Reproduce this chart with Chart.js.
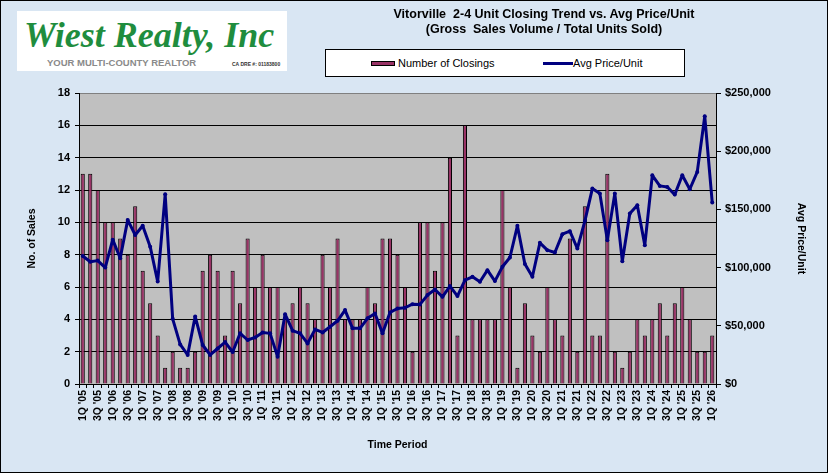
<!DOCTYPE html>
<html lang="en">
<head>
    <meta charset="UTF-8">
    <title>Vitorville 2-4 Unit Closing Trend</title>
    <script src="https://cdn.jsdelivr.net/npm/chart.js"></script>
    <style>
        body {
            margin: 0;
            width: 828px;
            height: 473px;
            overflow: hidden;
            font-family: Arial, "Liberation Sans", sans-serif;
            background: #d9e6f3;
        }

        #frame {
            position: absolute;
            left: 0; top: 0;
            width: 828px; height: 473px;
            box-sizing: border-box;
            border: 1px solid #000;
            z-index: 5;
            pointer-events: none;
        }

        #wrap {
            position: absolute;
            left: 0; top: 0;
            width: 828px; height: 473px;
        }

        #logo {
            position: absolute;
            left: 17px; top: 11px;
            width: 270px; height: 60px;
            background: #fff;
            z-index: 3;
        }
        #logo .name {
            position: absolute;
            left: 7px; top: 3px;
            font-family: "Liberation Serif", "DejaVu Serif", serif;
            font-style: italic;
            font-weight: bold;
            font-size: 36px;
            color: #1f8d3e;
            white-space: nowrap;
        }
        #logo .tag {
            position: absolute;
            left: 30px; top: 46px;
            font-size: 9.5px;
            color: #8a8a8a;
            font-weight: bold;
            white-space: nowrap;
        }
        #logo .dre {
            position: absolute;
            left: 215px; top: 50px;
            font-size: 5px;
            font-weight: bold;
            color: #333;
            white-space: nowrap;
        }

        #title {
            position: absolute;
            left: 344px; top: 7px;
            width: 400px;
            text-align: center;
            font-weight: bold;
            font-size: 12.5px;
            line-height: 15px;
            color: #000;
            z-index: 3;
        }

        #legend {
            position: absolute;
            left: 325px; top: 49px;
            width: 360px; height: 28px;
            box-sizing: border-box;
            background: #fff;
            border: 1px solid #000;
            font-size: 11px;
            z-index: 3;
        }
        #legend .sw {
            position: absolute;
            left: 45px; top: 11px;
            width: 24px; height: 5px;
            background: #993366;
            border: 1px solid #000;
            box-sizing: border-box;
        }
        #legend .ln {
            position: absolute;
            left: 217px; top: 12px;
            width: 30px; height: 3px;
            background: #000080;
        }
        #legend span {
            position: absolute;
            top: 7px;
            white-space: nowrap;
        }
    </style>
</head>
<body>
    <div id="wrap"><canvas id="mycanvas"></canvas></div>

    <div id="logo">
        <div class="name">Wiest Realty, Inc</div>
        <div class="tag">YOUR MULTI-COUNTY REALTOR</div>
        <div class="dre">CA DRE #: 01183800</div>
    </div>

    <div id="title">Vitorville&nbsp; 2-4 Unit Closing Trend vs. Avg Price/Unit<br>(Gross&nbsp; Sales Volume / Total Units Sold)</div>

    <div id="legend">
        <div class="sw"></div><span style="left:72px">Number of Closings</span>
        <div class="ln"></div><span style="left:247px">Avg Price/Unit</span>
    </div>

    <div id="frame"></div>

    <script>
        // quarters, 1Q '05 .. 1Q '26
        var quarters = [
            "1Q '05", "2Q '05", "3Q '05", "4Q '05",
            "1Q '06", "2Q '06", "3Q '06", "4Q '06",
            "1Q '07", "2Q '07", "3Q '07", "4Q '07",
            "1Q '08", "2Q '08", "3Q '08", "4Q '08",
            "1Q '09", "2Q '09", "3Q '09", "4Q '09",
            "1Q '10", "2Q '10", "3Q '10", "4Q '10",
            "1Q '11", "2Q '11", "3Q '11", "4Q '11",
            "1Q '12", "2Q '12", "3Q '12", "4Q '12",
            "1Q '13", "2Q '13", "3Q '13", "4Q '13",
            "1Q '14", "2Q '14", "3Q '14", "4Q '14",
            "1Q '15", "2Q '15", "3Q '15", "4Q '15",
            "1Q '16", "2Q '16", "3Q '16", "4Q '16",
            "1Q '17", "2Q '17", "3Q '17", "4Q '17",
            "1Q '18", "2Q '18", "3Q '18", "4Q '18",
            "1Q '19", "2Q '19", "3Q '19", "4Q '19",
            "1Q '20", "2Q '20", "3Q '20", "4Q '20",
            "1Q '21", "2Q '21", "3Q '21", "4Q '21",
            "1Q '22", "2Q '22", "3Q '22", "4Q '22",
            "1Q '23", "2Q '23", "3Q '23", "4Q '23",
            "1Q '24", "2Q '24", "3Q '24", "4Q '24",
            "1Q '25", "2Q '25", "3Q '25", "4Q '25",
            "1Q '26"
        ];

        var closings = [
            13, 13, 12, 10,   10, 9, 8, 11,   7, 5, 3, 1,   2, 1, 1, 2,
            7, 8, 7, 3,   7, 5, 9, 6,   8, 6, 6, 4,   5, 6, 5, 4,
            8, 6, 9, 4,   4, 4, 6, 5,   9, 9, 8, 6,   2, 10, 10, 7,
            10, 14, 3, 16,   4, 4, 4, 4,   12, 6, 1, 5,   3, 2, 6, 4,
            3, 9, 2, 11,   3, 3, 13, 2,   1, 2, 4, 3,   4, 5, 3, 5,
            6, 4, 2, 2,   3
        ];

        var avgPrice = [
            110000, 105000, 106000, 100000,   124000, 108000, 141000, 128000,
            136000, 118000, 88000, 163000,    56000, 34000, 25000, 58000,
            33500, 25000, 30500, 36000,       27500, 43500, 37800, 40000,
            44300, 43500, 23500, 60000,       45800, 43500, 34900, 46900,
            44300, 49200, 54300, 63500,       47800, 47800, 56400, 60600,
            43500, 61500, 64900, 65500,       68600, 68400, 76400, 81200,
            74900, 84100, 75500, 89200,       92100, 87800, 97800, 88400,
            100700, 108700, 135900, 103000,   92100, 121300, 115000, 113000,
            128700, 131300, 116400, 140000,   167900, 163600, 123600, 163600,
            105500, 146500, 153600, 119300,   179300, 170200, 169300, 162700,
            179300, 167300, 182200, 230000,   155900
        ];

        var salesTicks = [0, 2, 4, 6, 8, 10, 12, 14, 16, 18];
        var priceTicks = [0, 50000, 100000, 150000, 200000, 250000];

        var plotBg = {
            id: 'plotBg',
            beforeDraw: function (chart) {
                var a = chart.chartArea;
                var ctx = chart.ctx;
                ctx.save();
                ctx.fillStyle = '#c0c0c0';
                ctx.fillRect(a.left, a.top, a.right - a.left, a.bottom - a.top);
                ctx.restore();
            }
        };

        var tickFont = { family: 'Arial, "Liberation Sans"', size: 11, weight: 'bold' };
        var titleFont = { family: 'Arial, "Liberation Sans"', size: 10.5, weight: 'bold' };

        var ctx = document.getElementById('mycanvas').getContext('2d');
        new Chart(ctx, {
            type: 'bar',
            data: {
                labels: quarters,
                datasets: [{
                    type: 'line',
                    label: 'Avg Price/Unit',
                    data: avgPrice,
                    yAxisID: 'price',
                    borderColor: '#000080',
                    backgroundColor: '#000080',
                    borderWidth: 3,
                    borderJoinStyle: 'round',
                    pointRadius: 2,
                    pointBorderWidth: 0,
                    pointHoverRadius: 2,
                    tension: 0,
                    order: 1
                }, {
                    label: 'Number of Closings',
                    data: closings,
                    yAxisID: 'sales',
                    backgroundColor: '#993366',
                    borderColor: '#000',
                    borderWidth: 1,
                    barPercentage: 0.55,
                    categoryPercentage: 1,
                    order: 2
                }]
            },
            options: {
                responsive: true,
                maintainAspectRatio: false,
                animation: false,
                layout: { padding: { top: 93, left: 22, right: 17, bottom: 18 } },
                plugins: {
                    legend: { display: false },
                    tooltip: { enabled: false }
                },
                scales: {
                    x: {
                        grid: {
                            display: true,
                            drawOnChartArea: false,
                            drawTicks: true,
                            tickLength: 4,
                            color: '#000'
                        },
                        border: { color: '#000', width: 1 },
                        ticks: {
                            autoSkip: false,
                            maxRotation: 90,
                            minRotation: 90,
                            color: '#000',
                            padding: 2,
                            font: { family: 'Arial, "Liberation Sans"', size: 10.5, weight: 'bold' },
                            callback: function (v, i) {
                                return i % 2 === 0 ? quarters[i] : '';
                            }
                        },
                        title: { display: true, text: 'Time Period', color: '#000', font: titleFont },
                        afterFit: function (s) { s.height = 71; }
                    },
                    sales: {
                        position: 'left',
                        min: 0,
                        max: 18,
                        afterBuildTicks: function (s) {
                            s.ticks = salesTicks.map(function (v) { return { value: v }; });
                        },
                        grid: {
                            color: function (c) { return c.tick && c.tick.value === 18 ? '#808080' : '#000'; },
                            tickLength: 4,
                            tickColor: '#000'
                        },
                        border: { color: '#000', width: 1 },
                        ticks: { color: '#000', padding: 5, font: tickFont },
                        title: { display: true, text: 'No. of Sales', color: '#000', font: titleFont },
                        afterFit: function (s) { s.width = 57; }
                    },
                    price: {
                        position: 'right',
                        min: 0,
                        max: 250000,
                        afterBuildTicks: function (s) {
                            s.ticks = priceTicks.map(function (v) { return { value: v }; });
                        },
                        grid: {
                            drawOnChartArea: false,
                            tickLength: 5,
                            color: '#000'
                        },
                        border: { color: '#000', width: 1 },
                        ticks: {
                            color: '#000',
                            padding: 4,
                            font: tickFont,
                            callback: function (v) { return '$' + v.toLocaleString('en-US'); }
                        },
                        title: { display: true, text: 'Avg Price/Unit', color: '#000', font: titleFont },
                        afterFit: function (s) { s.width = 95; }
                    }
                }
            },
            plugins: [plotBg]
        });
    </script>
</body>
</html>
